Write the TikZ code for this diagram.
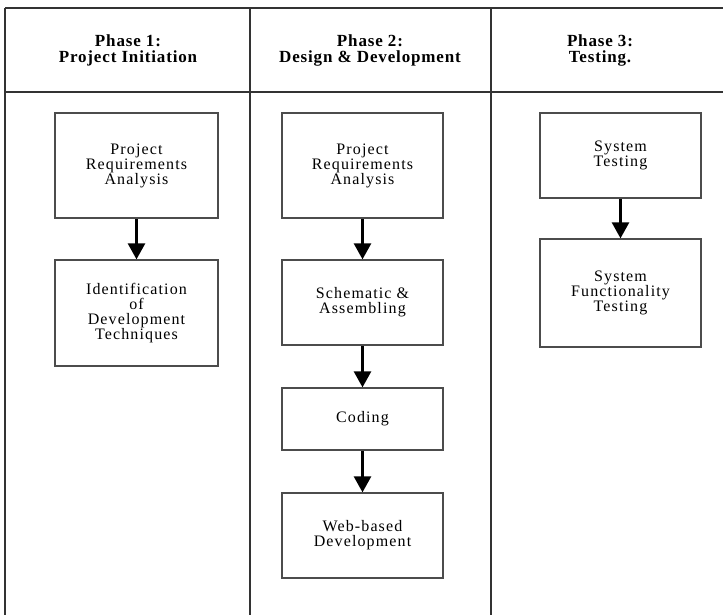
\documentclass[tikz,border=0pt]{standalone}
\usepackage{fontspec}
\setmainfont{Liberation Serif}
\usetikzlibrary{arrows.meta}
\tikzset{
  grid line/.style={draw=black!80, line width=1.4pt},
  stagebox/.style={draw=black!70, line width=1.3pt, rectangle, align=center, inner sep=2pt,
    font=\fontsize{16}{15}\selectfont\addfontfeature{LetterSpace=7}},
  phasehead/.style={align=center, inner sep=0pt, font=\bfseries\fontsize{17}{16}\selectfont\addfontfeature{LetterSpace=5}},
  flow/.style={draw=black, line width=2.7pt, -{Triangle[width=17pt,length=16pt]}, shorten <=0.5pt}
}
\begin{document}
\begin{tikzpicture}[x=1pt,y=-1pt]
\useasboundingbox (0,0) rectangle (723,615);
% table
\coordinate (tl) at (5,8);
\coordinate (tr) at (723,8);
\coordinate (hl) at (5,92);
\coordinate (hr) at (723,92);
\coordinate (bl) at (5,615);
\coordinate (d1t) at (250,8);
\coordinate (d1b) at (250,615);
\coordinate (d2t) at (491,8);
\coordinate (d2b) at (491,615);
\draw[grid line] (tl) -- (tr);
\draw[grid line] (hl) -- (hr);
\draw[grid line] (tl) -- (bl);
\draw[grid line] (d1t) -- (d1b);
\draw[grid line] (d2t) -- (d2b);
% headers
\node[phasehead] (h1) at (128,50) {Phase 1:\\Project Initiation};
\node[phasehead] (h2) at (370,50) {Phase 2:\\Design \& Development};
\node[phasehead] (h3) at (600,50) {Phase 3:\\Testing.};
% phase 1
\node[stagebox, minimum width=163pt, minimum height=105pt] (p1a) at (136.5,165.5) {Project\\Requirements\\Analysis};
\node[stagebox, minimum width=163pt, minimum height=106pt] (p1b) at (136.5,313) {Identification\\of\\Development\\Techniques};
% phase 2
\node[stagebox, minimum width=161pt, minimum height=105pt] (p2a) at (362.5,165.5) {Project\\Requirements\\Analysis};
\node[stagebox, minimum width=161pt, minimum height=85pt] (p2b) at (362.5,302.5) {Schematic \&\\Assembling};
\node[stagebox, minimum width=161pt, minimum height=62pt] (p2c) at (362.5,419) {Coding};
\node[stagebox, minimum width=161pt, minimum height=85pt] (p2d) at (362.5,535.5) {Web-based\\Development};
% phase 3
\node[stagebox, minimum width=161pt, minimum height=85pt] (p3a) at (620.5,155.5) {System\\Testing};
\node[stagebox, minimum width=161pt, minimum height=108pt] (p3b) at (620.5,293) {System\\Functionality\\Testing};
% arrows
\draw[flow] (p1a) -- (p1b);
\draw[flow] (p2a) -- (p2b);
\draw[flow] (p2b) -- (p2c);
\draw[flow] (p2c) -- (p2d);
\draw[flow] (p3a) -- (p3b);
\end{tikzpicture}
\end{document}
